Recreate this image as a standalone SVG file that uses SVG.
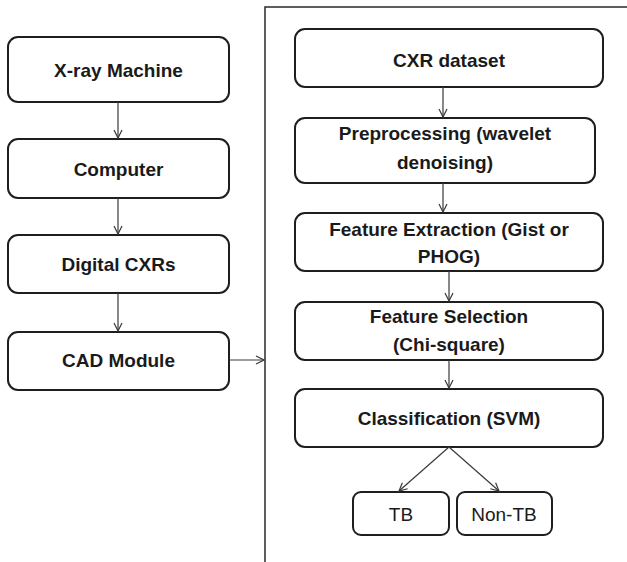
<svg xmlns="http://www.w3.org/2000/svg" width="627" height="562" viewBox="0 0 627 562">
  <style>
    .box { fill: #ffffff; stroke: #1e1e1e; stroke-width: 2; }
    .lbl { font-family: "Liberation Sans", Arial, sans-serif; font-weight: bold; font-size: 19px; fill: #1a1a1a; text-anchor: middle; }
    .lbl-r { font-family: "Liberation Sans", Arial, sans-serif; font-size: 19px; fill: #1a1a1a; text-anchor: middle; }
    .conn { fill: none; stroke: #3a3a3a; stroke-width: 1.2; }
    .frame { fill: none; stroke: #2a2a2a; stroke-width: 1.5; }
  </style>
  <defs>
    <marker id="arrow" viewBox="0 0 10 10" refX="9" refY="5" markerWidth="10" markerHeight="10" markerUnits="userSpaceOnUse" orient="auto">
      <path d="M1,1 L9,5 L1,9" fill="none" stroke="#3a3a3a" stroke-width="1.2"/>
    </marker>
  </defs>

  <rect width="627" height="562" fill="#ffffff"/>

  <!-- enclosing panel for the CAD pipeline -->
  <path class="frame" d="M265,562 V7 H627"/>

  <!-- acquisition chain -->
  <g id="xray-machine">
    <rect class="box" x="8" y="37" width="221" height="65" rx="10"/>
    <text class="lbl" x="118.5" y="77">X-ray Machine</text>
  </g>
  <g id="computer">
    <rect class="box" x="8" y="139" width="221" height="59" rx="10"/>
    <text class="lbl" x="118.5" y="176">Computer</text>
  </g>
  <g id="digital-cxrs">
    <rect class="box" x="8" y="235" width="221" height="58" rx="10"/>
    <text class="lbl" x="118.5" y="271">Digital CXRs</text>
  </g>
  <g id="cad-module">
    <rect class="box" x="8" y="332" width="221" height="58" rx="10"/>
    <text class="lbl" x="118.5" y="367">CAD Module</text>
  </g>

  <!-- CAD pipeline -->
  <g id="cxr-dataset">
    <rect class="box" x="295" y="29" width="308" height="58" rx="10"/>
    <text class="lbl" x="449" y="67">CXR dataset</text>
  </g>
  <g id="preprocessing">
    <rect class="box" x="295" y="118" width="300" height="65" rx="10"/>
    <text class="lbl" x="445" y="140">Preprocessing (wavelet</text>
    <text class="lbl" x="445" y="169">denoising)</text>
  </g>
  <g id="feature-extraction">
    <rect class="box" x="295" y="213" width="308" height="58" rx="10"/>
    <text class="lbl" x="449" y="236">Feature Extraction (Gist or</text>
    <text class="lbl" x="449" y="263">PHOG)</text>
  </g>
  <g id="feature-selection">
    <rect class="box" x="295" y="302" width="308" height="58" rx="10"/>
    <text class="lbl" x="449" y="323">Feature Selection</text>
    <text class="lbl" x="449" y="351">(Chi-square)</text>
  </g>
  <g id="classification">
    <rect class="box" x="295" y="389" width="308" height="58" rx="10"/>
    <text class="lbl" x="449" y="425">Classification (SVM)</text>
  </g>
  <g id="tb">
    <rect class="box" x="353" y="492" width="96" height="43" rx="8"/>
    <text class="lbl-r" x="401" y="521">TB</text>
  </g>
  <g id="non-tb">
    <rect class="box" x="457" y="492" width="95" height="43" rx="8"/>
    <text class="lbl-r" x="504" y="521">Non-TB</text>
  </g>

  <!-- connectors -->
  <g id="connectors">
    <line class="conn" x1="118" y1="102" x2="118" y2="138" marker-end="url(#arrow)"/>
    <line class="conn" x1="118" y1="198" x2="118" y2="234" marker-end="url(#arrow)"/>
    <line class="conn" x1="118" y1="293" x2="118" y2="331" marker-end="url(#arrow)"/>
    <line class="conn" x1="229" y1="360" x2="264" y2="360" marker-end="url(#arrow)"/>
    <line class="conn" x1="443" y1="87" x2="443" y2="117" marker-end="url(#arrow)"/>
    <line class="conn" x1="443" y1="183" x2="443" y2="212" marker-end="url(#arrow)"/>
    <line class="conn" x1="449" y1="271" x2="449" y2="301" marker-end="url(#arrow)"/>
    <line class="conn" x1="449" y1="360" x2="449" y2="388" marker-end="url(#arrow)"/>
    <line class="conn" x1="449" y1="447" x2="399" y2="491" marker-end="url(#arrow)"/>
    <line class="conn" x1="449" y1="447" x2="499" y2="491" marker-end="url(#arrow)"/>
  </g>
</svg>
